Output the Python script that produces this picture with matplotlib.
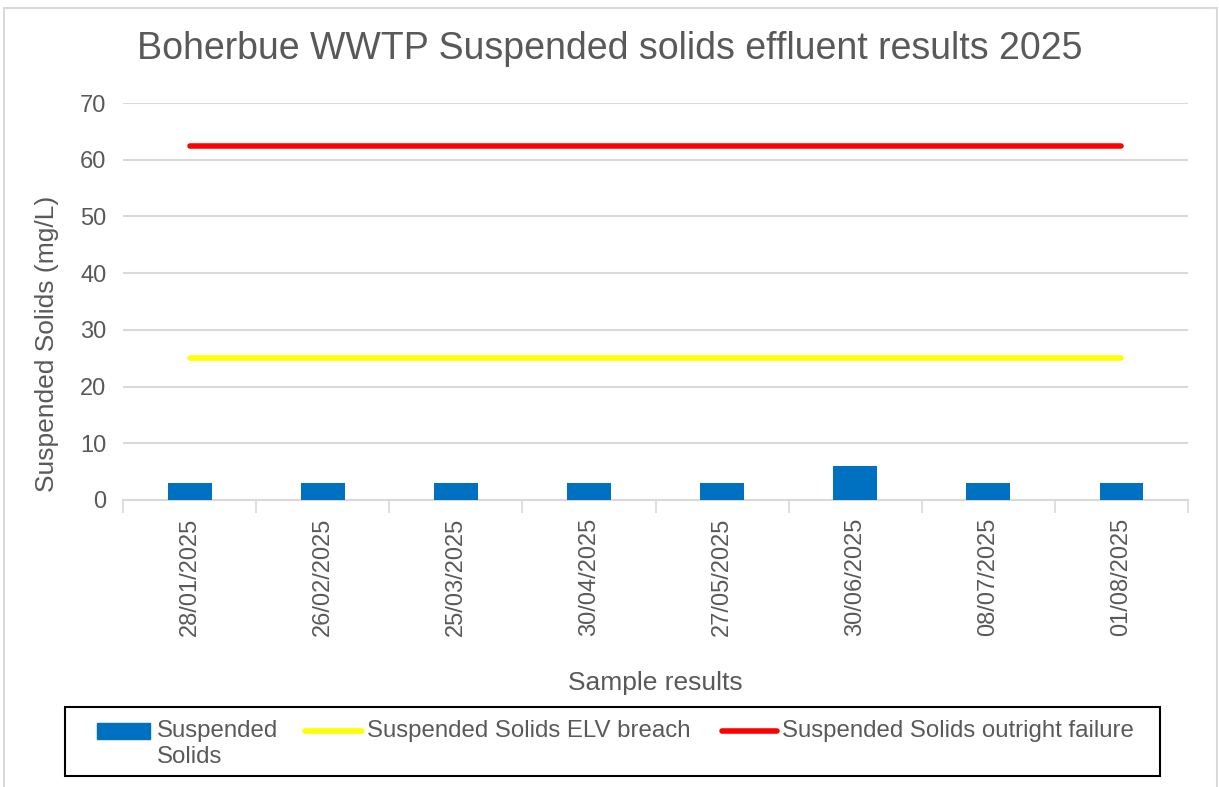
import numpy as np
import matplotlib.pyplot as plt
from matplotlib.patches import Rectangle
from matplotlib.lines import Line2D

# Sample data
dates = ['28/01/2025', '26/02/2025', '25/03/2025', '30/04/2025',
         '27/05/2025', '30/06/2025', '08/07/2025', '01/08/2025']
solids = [3, 3, 3, 3, 3, 6, 3, 3]
elv_breach = [25] * 8
outright_failure = [62.5] * 8

plt.rcParams['font.family'] = ['Liberation Sans', 'DejaVu Sans']
grey = '#595959'
blue, yellow, red = '#0070C0', '#FFFF00', '#FF0000'

fig = plt.figure(figsize=(12.19, 7.87), dpi=100)
ax = fig.add_axes([0.1009, 0.3647, 0.8737, 0.5043])

x = np.arange(len(dates))
ax.bar(x, solids, width=0.33, color=blue, zorder=3)
ax.plot(x, elv_breach, color=yellow, lw=4, solid_capstyle='round', zorder=4)
ax.plot(x, outright_failure, color=red, lw=4, solid_capstyle='round', zorder=4)

ax.set_xlim(-0.5, len(dates) - 0.5)
ax.set_ylim(0, 70)
ax.set_yticks(range(0, 71, 10))
ax.grid(axis='y', color='#D9D9D9', lw=1.5, zorder=0)

ax.set_xticks(x)
ax.set_xticklabels(dates, rotation=90, fontsize=17, color=grey)
ax.tick_params(axis='x', length=0, pad=13)
ax.set_xticks(np.arange(-0.5, len(dates)), minor=True)
ax.tick_params(axis='x', which='minor', length=9, width=1.2, color='#D9D9D9')
ax.tick_params(axis='y', length=0, labelsize=17, labelcolor=grey, pad=12)

for s in ['top', 'right', 'left']:
    ax.spines[s].set_visible(False)
ax.spines['bottom'].set_color('#D9D9D9')
ax.spines['bottom'].set_linewidth(1.5)

ax.set_ylabel('Suspended Solids (mg/L)', fontsize=19, color=grey)
ax.yaxis.set_label_coords(-0.060, 0.393)
ax.set_xlabel('Sample results', fontsize=19, color=grey, labelpad=25)
fig.text(0.5, 0.938, 'Boherbue WWTP Suspended solids effluent results 2025',
         ha='center', va='center', fontsize=27, color=grey)

# outer chart border
fig.add_artist(Rectangle((0.0035, -0.01), 0.995, 1.0, transform=fig.transFigure,
                         fill=False, edgecolor='#D9D9D9', lw=1.5))

# legend, laid out like the Excel one (first label wraps onto two lines)
fig.add_artist(Rectangle((0.0533, 0.014), 0.898, 0.0877, transform=fig.transFigure,
                         fill=False, edgecolor='black', lw=1.5))
row1, row2 = 1 - 731 / 787, 1 - 757 / 787
fig.add_artist(Rectangle((97 / 1219, row1 - 0.0105), 53 / 1219, 0.021,
                         transform=fig.transFigure, color=blue))
fig.text(157 / 1219, row1, 'Suspended', fontsize=17.3, color=grey, va='center')
fig.text(157 / 1219, row2, 'Solids', fontsize=17.3, color=grey, va='center')
fig.add_artist(Line2D([305 / 1219, 362 / 1219], [row1, row1], transform=fig.transFigure,
                      color=yellow, lw=4, solid_capstyle='round'))
fig.text(367 / 1219, row1, 'Suspended Solids ELV breach', fontsize=17.3, color=grey,
         va='center')
fig.add_artist(Line2D([722 / 1219, 777 / 1219], [row1, row1], transform=fig.transFigure,
                      color=red, lw=4, solid_capstyle='round'))
fig.text(782 / 1219, row1, 'Suspended Solids outright failure', fontsize=17.3, color=grey,
         va='center')

fig.savefig('out.png', dpi=100)
